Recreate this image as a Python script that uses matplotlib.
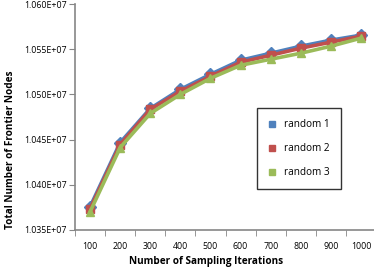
import matplotlib.pyplot as plt
from matplotlib.lines import Line2D

iterations = ['100', '200', '300', '400', '500', '600', '700', '800', '900', '1000']
random1 = [10375556, 10446667, 10484444, 10505556, 10522222,
           10537778, 10545556, 10553333, 10560000, 10565556]
random2 = [10373333, 10444444, 10483333, 10503333, 10520000,
           10535556, 10543333, 10551111, 10557778, 10564444]
random3 = [10370000, 10441111, 10478889, 10500000, 10517778,
           10532222, 10538889, 10545556, 10553333, 10562222]
series_names = ['random 1', 'random 2', 'random 3']
colors = ['#4F81BD', '#C0504D', '#9BBB59']
markers = ['D', 's', '^']

plt.rcParams['font.family'] = ['Open Sans', 'DejaVu Sans']

fig = plt.figure(figsize=(3.74, 2.68), dpi=100)
ax = fig.add_axes([0.2005, 0.142, 0.805, 0.843])

x = list(range(len(iterations)))
for vals, c, m in zip([random1, random2, random3], colors, markers):
    ax.plot(x, vals, color=c, lw=2.6, marker=m, markersize=6,
            markeredgecolor=c, markerfacecolor=c)

ax.set_xlim(-0.5, len(iterations) - 0.5)
ax.set_ylim(1.035e7, 1.060e7)
ax.set_yticks([1.035e7, 1.040e7, 1.045e7, 1.050e7, 1.055e7, 1.060e7])
ax.set_yticklabels(['%.3fE+07' % (v / 1e7) for v in ax.get_yticks()])

ax.set_xticks(x)
ax.set_xticklabels(iterations)
ax.set_xticks([i - 0.5 for i in range(len(iterations) + 1)], minor=True)
ax.tick_params(axis='x', which='major', length=0, pad=9, labelsize=6.3, colors='#000000')
ax.tick_params(axis='x', which='minor', length=4, direction='out', color='#868686')
ax.tick_params(axis='y', length=4, direction='out', color='#868686', labelsize=6.3, pad=2)

for s in ['top', 'right']:
    ax.spines[s].set_visible(False)
for s in ['left', 'bottom']:
    ax.spines[s].set_color('#868686')
    ax.spines[s].set_linewidth(1.2)

fig.text(0.028, 0.44, 'Total Number of Frontier Nodes', rotation=90,
         ha='center', va='center', fontsize=7.2, fontweight='bold')
fig.text(0.55, 0.002, 'Number of Sampling Iterations', ha='center', va='bottom',
         fontsize=7.2, fontweight='bold')

handles = [Line2D([], [], ls='none', marker='s', markersize=4, color=c) for c in colors]
leg = fig.legend(handles, series_names, loc='upper left',
                 bbox_to_anchor=(257 / 374, 1 - 108 / 268), fontsize=7.2,
                 frameon=True, fancybox=False, handlelength=0.8,
                 handletextpad=0.8, labelspacing=1.3, borderpad=1.1,
                 borderaxespad=0)
leg.get_frame().set_edgecolor('black')
leg.get_frame().set_linewidth(1.0)

fig.savefig('out.png', dpi=100)
